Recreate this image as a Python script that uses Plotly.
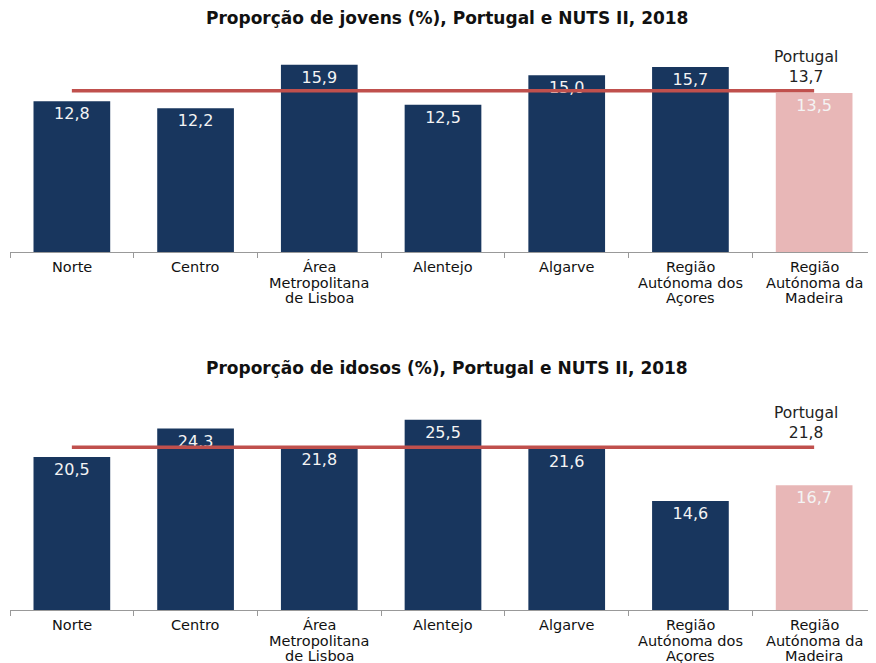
import plotly.graph_objects as go

categories = ["Norte", "Centro", "Área Metropolitana de Lisboa", "Alentejo", "Algarve",
              "Região Autónoma dos Açores", "Região Autónoma da Madeira"]
category_lines = [["Norte"], ["Centro"], ["Área", "Metropolitana", "de Lisboa"], ["Alentejo"],
                  ["Algarve"], ["Região", "Autónoma dos", "Açores"], ["Região", "Autónoma da", "Madeira"]]
jovens = [12.8, 12.2, 15.9, 12.5, 15.0, 15.7, 13.5]
idosos = [20.5, 24.3, 21.8, 25.5, 21.6, 14.6, 16.7]
portugal_jovens = 13.7
portugal_idosos = 21.8
title_jovens = "Proporção de jovens (%), Portugal e NUTS II, 2018"
title_idosos = "Proporção de idosos (%), Portugal e NUTS II, 2018"

NAVY = "#18365E"
PINK = "#E8B7B7"
RED = "#C0504D"
FONT = "DejaVu Sans, Liberation Sans, Arial, sans-serif"

# page body adds an 8px offset; figure coordinates are screen coordinates minus 8
W, H = 868, 655
OFF = 8

def py(screen_y):
    return 1 - (screen_y - OFF) / H

colors = [NAVY] * 6 + [PINK]

def fmt(v):
    return f"{v:.1f}".replace(".", ",")

fig = go.Figure()
panels = [
    (jovens, "x", "y", portugal_jovens, 267),
    (idosos, "x2", "y2", portugal_idosos, 625),
]
for vals, xa, ya, pt, label_y in panels:
    fig.add_trace(go.Bar(x=categories, y=vals, xaxis=xa, yaxis=ya, marker_color=colors,
                         marker_line_width=0,
                         text=[fmt(v) for v in vals], textposition="inside",
                         insidetextanchor="end", textangle=0,
                         textfont=dict(color="#F4F4F4", size=16, family=FONT),
                         showlegend=False, hoverinfo="skip"))
    fig.add_trace(go.Scatter(x=[categories[0], categories[-1]], y=[pt, pt], xaxis=xa, yaxis=ya,
                             mode="lines", line=dict(color=RED, width=3.5),
                             showlegend=False, hoverinfo="skip"))
    fig.add_annotation(x=categories[-1], y=pt, xref=xa, yref=ya, text="Portugal<br>" + fmt(pt),
                       showarrow=False, yanchor="bottom", yshift=3, xshift=-8,
                       font=dict(size=15.5, color="#222222", family=FONT))
    for cat, lines in zip(categories, category_lines):
        for i, line in enumerate(lines):
            fig.add_annotation(x=cat, xref=xa, y=py(label_y + i * 15.7), yref="paper",
                               text=line, showarrow=False, yanchor="middle",
                               font=dict(size=14.5, color="#111111", family=FONT))

axis_x = dict(showline=True, linecolor="#999999", linewidth=1, ticks="outside", tickson="boundaries",
              ticklen=5, tickcolor="#999999", showticklabels=False,
              showgrid=False, zeroline=False, fixedrange=True, domain=[0, 1], automargin=False)
axis_y = dict(visible=False, showgrid=False, zeroline=False, fixedrange=True, automargin=False)

fig.update_layout(
    width=W, height=H,
    margin=dict(l=2, r=0, t=0, b=0),
    paper_bgcolor="white", plot_bgcolor="white",
    bargap=0.38,
    font=dict(family=FONT),
    xaxis=dict(axis_x, anchor="y"),
    yaxis=dict(axis_y, range=[0, 18], domain=[py(252), py(40)]),
    xaxis2=dict(axis_x, anchor="y2"),
    yaxis2=dict(axis_y, range=[0, 28], domain=[py(610), py(401)]),
)
title_x = (447 - OFF - 2) / (W - 2)
fig.add_annotation(x=title_x, y=py(18), xref="paper", yref="paper",
                   text="<b>" + title_jovens + "</b>", showarrow=False, yanchor="middle",
                   font=dict(size=17, color="#111111", family=FONT))
fig.add_annotation(x=title_x, y=py(368), xref="paper", yref="paper",
                   text="<b>" + title_idosos + "</b>", showarrow=False, yanchor="middle",
                   font=dict(size=17, color="#111111", family=FONT))

fig.write_html("out.html")
